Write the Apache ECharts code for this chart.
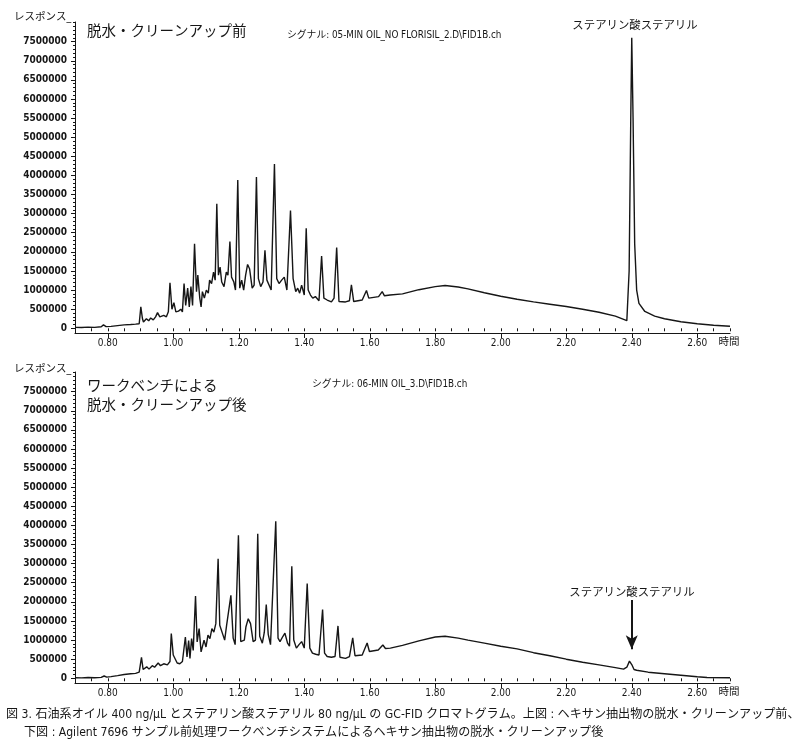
<!DOCTYPE html>
<html>
<head>
<meta charset="utf-8">
<script src="https://cdn.jsdelivr.net/npm/echarts@6/dist/echarts.min.js"></script>
<style>
html,body{margin:0;padding:0;background:#fff;}
#c{width:800px;height:754px;}
</style>
</head>
<body>
<div id="c"></div>
<script>
// ---- data ----
const topTime = [0.700,0.720,0.740,0.760,0.780,0.787,0.795,0.810,0.830,0.850,0.870,0.885,0.896,0.901,0.906,0.909,0.918,0.925,0.931,0.939,0.946,0.952,0.959,0.965,0.971,0.979,0.985,0.990,0.996,1.002,1.008,1.016,1.023,1.028,1.033,1.038,1.044,1.049,1.054,1.059,1.065,1.071,1.075,1.081,1.085,1.089,1.095,1.101,1.107,1.111,1.117,1.123,1.128,1.133,1.138,1.143,1.148,1.155,1.162,1.167,1.173,1.178,1.185,1.190,1.197,1.203,1.209,1.215,1.221,1.227,1.233,1.241,1.247,1.254,1.260,1.267,1.274,1.280,1.286,1.292,1.299,1.309,1.316,1.323,1.331,1.339,1.347,1.358,1.366,1.374,1.380,1.386,1.392,1.400,1.406,1.412,1.419,1.426,1.434,1.445,1.453,1.460,1.470,1.483,1.491,1.499,1.506,1.526,1.538,1.544,1.551,1.577,1.590,1.597,1.627,1.638,1.645,1.662,1.700,1.750,1.800,1.830,1.870,1.900,1.950,2.000,2.050,2.100,2.150,2.200,2.250,2.300,2.350,2.385,2.392,2.397,2.400,2.404,2.409,2.415,2.422,2.440,2.470,2.500,2.550,2.600,2.650,2.700];
const topResp = [25000,20000,30000,25000,40000,90000,45000,50000,70000,90000,100000,110000,120000,560000,250000,165000,250000,195000,270000,220000,300000,410000,300000,350000,340000,300000,430000,1190000,500000,670000,430000,450000,500000,430000,1170000,600000,1050000,560000,1090000,600000,2210000,960000,1390000,790000,560000,960000,790000,1000000,920000,1260000,1170000,1470000,1260000,3260000,1390000,1600000,1210000,1090000,1470000,1390000,2270000,1340000,1210000,1000000,3880000,1050000,1260000,1000000,1390000,1670000,1560000,1050000,1130000,3960000,1300000,1090000,1210000,2040000,1260000,1210000,1000000,4300000,1300000,1170000,1260000,1340000,1000000,3080000,1300000,960000,1050000,920000,1130000,870000,2620000,1000000,870000,790000,830000,720000,1890000,790000,740000,690000,790000,2110000,700000,690000,720000,1140000,700000,740000,990000,790000,830000,960000,850000,870000,900000,1010000,1090000,1120000,1080000,1030000,930000,840000,760000,690000,630000,570000,500000,420000,320000,200000,1500000,5500000,7600000,5500000,2200000,1000000,650000,440000,320000,250000,170000,120000,80000,55000];

const bottomTime = [0.700,0.720,0.740,0.760,0.780,0.789,0.797,0.810,0.830,0.850,0.870,0.885,0.896,0.903,0.908,0.911,0.919,0.926,0.936,0.943,0.954,0.961,0.971,0.982,0.990,0.994,1.000,1.005,1.012,1.020,1.028,1.032,1.037,1.042,1.047,1.051,1.056,1.061,1.068,1.073,1.079,1.085,1.089,1.094,1.100,1.106,1.112,1.118,1.124,1.130,1.137,1.142,1.147,1.152,1.157,1.163,1.168,1.176,1.183,1.189,1.199,1.206,1.211,1.217,1.222,1.229,1.236,1.244,1.251,1.258,1.264,1.272,1.278,1.284,1.290,1.297,1.303,1.313,1.320,1.326,1.335,1.341,1.349,1.355,1.362,1.368,1.376,1.384,1.392,1.400,1.409,1.417,1.425,1.435,1.445,1.456,1.462,1.470,1.483,1.494,1.503,1.509,1.526,1.538,1.548,1.555,1.577,1.592,1.599,1.626,1.640,1.648,1.663,1.700,1.750,1.800,1.830,1.870,1.900,1.950,2.000,2.050,2.100,2.150,2.200,2.250,2.300,2.350,2.375,2.385,2.393,2.400,2.407,2.415,2.450,2.500,2.550,2.600,2.630,2.700];
const bottomResp = [15000,10000,20000,15000,25000,60000,30000,45000,70000,100000,120000,130000,160000,550000,230000,225000,300000,240000,330000,290000,400000,330000,380000,350000,440000,1170000,610000,560000,400000,380000,440000,420000,1080000,560000,990000,520000,1040000,730000,2150000,950000,1300000,690000,650000,1000000,820000,1130000,1040000,1300000,1210000,1430000,3130000,1390000,1430000,1130000,1000000,1390000,1390000,2170000,1050000,880000,3740000,960000,1000000,1000000,1350000,1560000,1430000,960000,1000000,3780000,1100000,920000,1200000,1930000,1150000,880000,840000,4110000,1050000,960000,1100000,1180000,920000,840000,2930000,1000000,790000,880000,960000,790000,2480000,790000,660000,630000,610000,1800000,660000,570000,550000,570000,1370000,550000,520000,570000,1060000,590000,610000,925000,700000,740000,870000,780000,790000,860000,980000,1080000,1100000,1050000,1000000,920000,840000,770000,670000,590000,500000,420000,350000,280000,240000,290000,450000,360000,230000,210000,160000,120000,80000,40000,20000,15000];

const xTickLabels = [0.80,1.00,1.20,1.40,1.60,1.80,2.00,2.20,2.40,2.60];
const yTickLabels = [0,500000,1000000,1500000,2000000,2500000,3000000,3500000,4000000,4500000,5000000,5500000,6000000,6500000,7000000,7500000];
const steryl = {time: 2.40, label: 'ステアリン酸ステアリル'};
const arrowFrom = 2050000, arrowTo = 760000;

// ---- build ----
const NARROW = "'Liberation Sans Narrow','DejaVu Sans Condensed','Noto Sans CJK JP',sans-serif";
const JP = "'Noto Sans CJK JP',sans-serif";
const INK = '#161616';
const XMIN = 0.70, XMAX = 2.70, YMIN = -123000, YMAX = 8014000;

const xMinor = []; for (let i = 0; i <= 40; i++) xMinor.push(+(XMIN + 0.05 * i).toFixed(2));
const yMinor = []; for (let v = 0; v <= 8000000; v += 100000) yMinor.push(v);

function zip(t, r){ return t.map((x,i)=>[x, r[i]]); }

function xAxes(g){
  return [
    {type:'value', gridIndex:g, min:XMIN, max:XMAX, position:'bottom',
     axisLine:{show:true, onZero:false, lineStyle:{color:INK, width:1.2}},
     axisTick:{show:true, length:5, customValues:xTickLabels, lineStyle:{color:INK}},
     axisLabel:{show:true, customValues:xTickLabels, margin:5, color:INK, fontFamily:NARROW, fontSize:10,
       formatter:v=>v.toFixed(2)},
     splitLine:{show:false}},
    {type:'value', gridIndex:g, min:XMIN, max:XMAX, position:'bottom',
     axisLine:{show:false}, axisLabel:{show:false}, splitLine:{show:false},
     axisTick:{show:true, length:3, customValues:xMinor, lineStyle:{color:INK}}}
  ];
}
function yAxes(g){
  return [
    {type:'value', gridIndex:g, min:YMIN, max:YMAX, position:'left',
     axisLine:{show:true, onZero:false, lineStyle:{color:INK, width:1}},
     axisTick:{show:true, length:4, customValues:yTickLabels, lineStyle:{color:INK}},
     axisLabel:{show:true, customValues:yTickLabels, margin:8, color:INK, fontFamily:NARROW, fontSize:10,
       fontWeight:'bold', formatter:v=>String(v)},
     splitLine:{show:false}},
    {type:'value', gridIndex:g, min:YMIN, max:YMAX, position:'left',
     axisLine:{show:false}, axisLabel:{show:false}, splitLine:{show:false},
     axisTick:{show:true, length:2, customValues:yMinor, lineStyle:{color:INK}}}
  ];
}

const chart = echarts.init(document.getElementById('c'), null, {renderer:'canvas'});
const OFF = 350;
chart.setOption({
  backgroundColor:'#fff',
  animation:false,
  grid:[
    {left:75, top:22, width:655, height:311},
    {left:75, top:22+OFF, width:655, height:311}
  ],
  xAxis:[...xAxes(0), ...xAxes(1)],
  yAxis:[...yAxes(0), ...yAxes(1)],
  series:[
    {type:'line', xAxisIndex:0, yAxisIndex:0, data:zip(topTime, topResp), showSymbol:false,
     lineStyle:{color:INK, width:1.4}, silent:true},
    {type:'line', xAxisIndex:2, yAxisIndex:2, data:zip(bottomTime, bottomResp), showSymbol:false,
     lineStyle:{color:INK, width:1.4}, silent:true,
     markLine:{silent:true, animation:false, symbol:['none','arrow'], symbolSize:[9,14],
       lineStyle:{color:INK, width:2, type:'solid'}, label:{show:false},
       data:[[{coord:[steryl.time, arrowFrom]},{coord:[steryl.time, arrowTo]}]]}}
  ],
  graphic:[
    {type:'text', left:14, top:12, style:{text:'レスポンス_', font:"10.5px "+NARROW, fill:INK}},
    {type:'text', left:14, top:12+OFF+2, style:{text:'レスポンス_', font:"10.5px "+NARROW, fill:INK}},
    {type:'text', left:87, top:23, style:{text:'脱水・クリーンアップ前', font:"14.5px "+JP, fill:INK}},
    {type:'text', left:87, top:376, style:{text:'ワークベンチによる\n脱水・クリーンアップ後', font:"14.5px "+JP, fill:INK, lineHeight:19}},
    {type:'text', left:287, top:31, style:{text:'シグナル: 05-MIN OIL_NO FLORISIL_2.D\\FID1B.ch', font:"9.8px "+NARROW, fill:INK}},
    {type:'text', left:312, top:380, style:{text:'シグナル: 06-MIN OIL_3.D\\FID1B.ch', font:"9.8px "+NARROW, fill:INK}},
    {type:'text', x:635, y:25, style:{text:steryl.label, font:"11.4px "+JP, fill:INK, align:'center', verticalAlign:'middle'}},
    {type:'text', x:632, y:592, style:{text:steryl.label, font:"11.4px "+JP, fill:INK, align:'center', verticalAlign:'middle'}},
    {type:'text', x:729, y:342, style:{text:'時間', font:"10.5px "+NARROW, fill:INK, align:'center', verticalAlign:'middle'}},
    {type:'text', x:729, y:692, style:{text:'時間', font:"10.5px "+NARROW, fill:INK, align:'center', verticalAlign:'middle'}},
    {type:'text', left:6, top:709, style:{text:'図 3. 石油系オイル 400 ng/µL とステアリン酸ステアリル 80 ng/µL の GC-FID クロマトグラム。上図 : ヘキサン抽出物の脱水・クリーンアップ前、', font:"12.1px "+NARROW, fill:INK}},
    {type:'text', left:24, top:727, style:{text:'下図 : Agilent 7696 サンプル前処理ワークベンチシステムによるヘキサン抽出物の脱水・クリーンアップ後', font:"12.1px "+NARROW, fill:INK}}
  ]
});
</script>
</body>
</html>
